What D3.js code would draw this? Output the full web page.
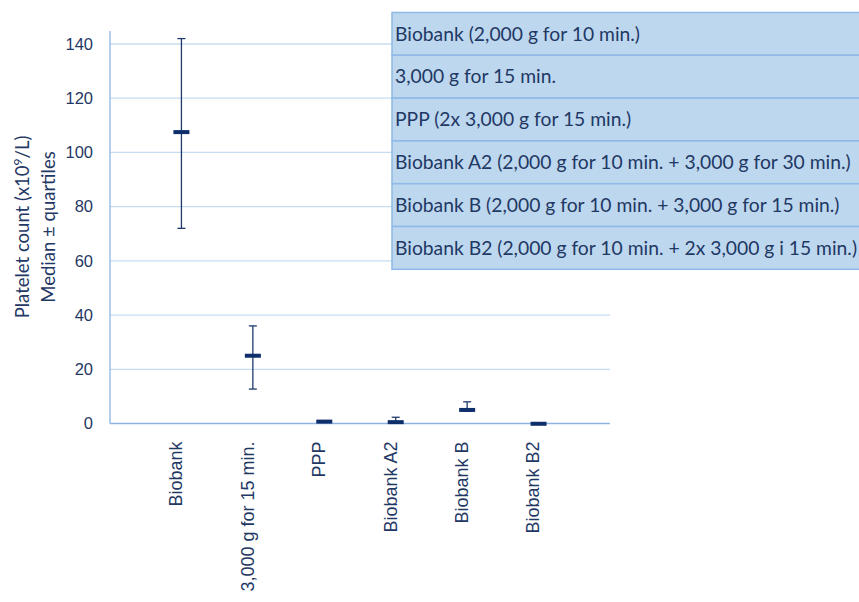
<!DOCTYPE html>
<html>
<head>
<meta charset="utf-8">
<script src="https://cdn.jsdelivr.net/npm/d3@7"></script>
<style>
  body { margin: 0; background: #fff; }
  svg { font-family: Lato, "Open Sans", sans-serif; }
</style>
</head>
<body>
<div id="chart"></div>
<script>
const categories = ["Biobank", "3,000 g for 15 min.", "PPP", "Biobank A2", "Biobank B", "Biobank B2"];
const medians = [107.5, 25, 0.7, 0.5, 5, -0.1];
const lowerQ = [72, 12.7, 0.5, 0.3, 4.5, -0.2];
const upperQ = [142, 36, 0.9, 2.3, 8, 0];
const yTicks = [0, 20, 40, 60, 80, 100, 120, 140];
const legendRows = [
  "Biobank (2,000 g for 10 min.)",
  "3,000 g for 15 min.",
  "PPP (2x 3,000 g for 15 min.)",
  "Biobank A2 (2,000 g for 10 min. + 3,000 g for 30 min.)",
  "Biobank B (2,000 g for 10 min. + 3,000 g for 15 min.)",
  "Biobank B2 (2,000 g for 10 min. + 2x 3,000 g i 15 min.)"
];

const width = 859, height = 602;
const margin = { top: 31, right: 249, bottom: 179, left: 110 };
const textColor = "#1f3864";

const svg = d3.select("#chart").append("svg")
  .attr("width", width)
  .attr("height", height);

const x = d3.scalePoint()
  .domain(categories)
  .range([margin.left, width - margin.right])
  .padding(1);

const y = d3.scaleLinear()
  .domain([0, 140])
  .range([423.5, 44]);

// gridlines
svg.append("g")
  .selectAll("line")
  .data(yTicks.filter(d => d > 0))
  .enter()
  .append("line")
  .attr("x1", margin.left)
  .attr("x2", width - margin.right)
  .attr("y1", d => y(d))
  .attr("y2", d => y(d))
  .attr("stroke", "#c6dcf2")
  .attr("stroke-width", 1.3);

// y axis
const yAxis = svg.append("g")
  .attr("transform", `translate(${margin.left},0)`)
  .call(d3.axisLeft(y).tickValues(yTicks).tickSize(0).tickPadding(17));
yAxis.select(".domain").remove();
yAxis.selectAll("text")
  .attr("fill", textColor)
  .style("font-size", "16.5px");
svg.append("line")
  .attr("x1", margin.left).attr("x2", margin.left)
  .attr("y1", margin.top).attr("y2", y(0))
  .attr("stroke", "#8fb4e4").attr("stroke-width", 1.3);

// x axis
const xAxis = svg.append("g")
  .attr("transform", `translate(0,${y(0)})`)
  .call(d3.axisBottom(x).tickSize(0).tickPadding(0));
xAxis.select(".domain")
  .attr("d", `M${margin.left},0H${width - margin.right}`)
  .attr("stroke", "#8fb4e4").attr("stroke-width", 1.3);
xAxis.selectAll("text")
  .attr("fill", textColor)
  .style("font-size", "18px")
  .attr("text-anchor", "end")
  .attr("dy", "0.35em")
  .attr("transform", "translate(-6,18) rotate(-90)")
  .attr("x", 0).attr("y", 0);

// y title
const title = svg.append("text")
  .attr("transform", "translate(0,227) rotate(-90)")
  .attr("text-anchor", "middle")
  .attr("fill", textColor)
  .style("font-size", "18.5px");
const t1 = title.append("tspan").attr("x", 0).attr("y", 29);
t1.append("tspan").text("Platelet count (x10");
t1.append("tspan").attr("dy", -7).style("font-size", "12px").text("9");
t1.append("tspan").attr("dy", 7).text("/L)");
title.append("tspan").attr("x", 0).attr("y", 55).text("Median \u00b1 quartiles");

// error bars
const bars = svg.append("g")
  .selectAll("g")
  .data(categories)
  .enter()
  .append("g");

bars.append("line")
  .attr("x1", d => x(d)).attr("x2", d => x(d))
  .attr("y1", (d, i) => y(lowerQ[i]))
  .attr("y2", (d, i) => y(upperQ[i]))
  .attr("stroke", "#1f3a6b").attr("stroke-width", 1.3);

bars.selectAll(".cap")
  .data((d, i) => [{ c: d, v: lowerQ[i] }, { c: d, v: upperQ[i] }])
  .enter()
  .append("line")
  .attr("x1", d => x(d.c) - 4).attr("x2", d => x(d.c) + 4)
  .attr("y1", d => y(d.v)).attr("y2", d => y(d.v))
  .attr("stroke", "#1f3a6b").attr("stroke-width", 1.3);

bars.append("rect")
  .attr("x", d => x(d) - 8)
  .attr("y", (d, i) => y(medians[i]) - 2)
  .attr("width", 16)
  .attr("height", 4)
  .attr("fill", "#0f2f6b");

// legend table
const rowH = 42.8;
const legend = svg.append("g").attr("transform", "translate(392,12.5)");
legend.selectAll("rect")
  .data(legendRows)
  .enter()
  .append("rect")
  .attr("x", 0)
  .attr("y", (d, i) => i * rowH)
  .attr("width", 480)
  .attr("height", rowH)
  .attr("fill", "#bdd7ee")
  .attr("stroke", "#8fb9e6")
  .attr("stroke-width", 1.5);
legend.selectAll("text")
  .data(legendRows)
  .enter()
  .append("text")
  .attr("x", 3)
  .attr("y", (d, i) => i * rowH + rowH / 2)
  .attr("dy", "0.35em")
  .attr("fill", textColor)
  .style("font-size", "19.3px")
  .text(d => d);
</script>
</body>
</html>
